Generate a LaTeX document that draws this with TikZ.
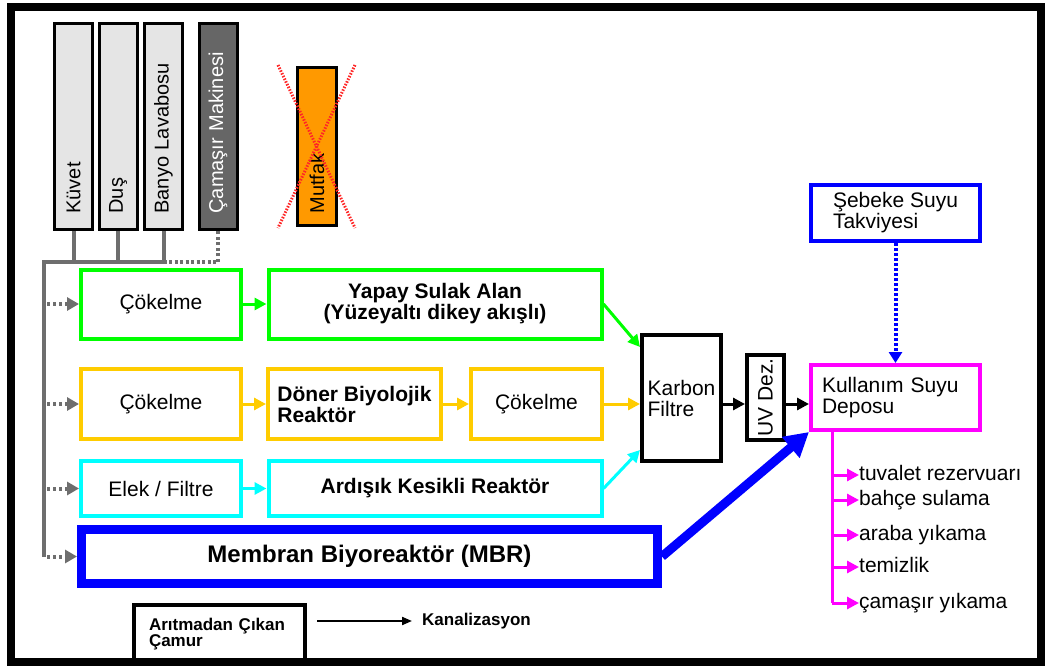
\documentclass[tikz,border=0pt]{standalone}
\usepackage{fontspec}
\setmainfont{Liberation Sans}
\usetikzlibrary{arrows.meta,calc}
\definecolor{grn}{RGB}{0,255,0}
\definecolor{org}{RGB}{255,204,0}
\definecolor{cyn}{RGB}{0,255,255}
\definecolor{blu}{RGB}{0,0,255}
\definecolor{mag}{RGB}{255,0,255}
\definecolor{pgray}{RGB}{110,110,110}
\definecolor{lgray}{RGB}{229,229,229}
\definecolor{dgray}{RGB}{102,102,102}
\definecolor{mutf}{RGB}{255,153,0}
\tikzset{box/.style={draw=#1, line width=4pt, fill=white, inner sep=0pt, font=\fontsize{21}{21}\selectfont},
         bold/.style={font=\fontsize{21}{21}\selectfont\bfseries},
         src/.style={draw, line width=3pt, fill=lgray, rotate=90, inner xsep=16pt, inner ysep=0pt,
                     text width=174pt, align=left, minimum width=206pt, minimum height=38pt,
                     font=\fontsize{20}{20}\selectfont},
         pipe/.style={draw=pgray, line width=4pt},
         feed/.style={pipe, dash pattern=on 3pt off 3pt, shorten <=3pt, -{Triangle[length=12pt,width=13pt]}},
         arc/.style={line width=3pt, -{Triangle[length=12pt,width=12pt]}},
         use/.style={anchor=west, inner sep=0pt, text height=15pt, text depth=4pt, font=\fontsize{21}{21}\selectfont}
}

\begin{document}
\begin{tikzpicture}[x=1pt, y=-1pt]
       \useasboundingbox (0,0) rectangle (1046,666);
       \fill[white] (0,0) rectangle (1046,666);
       % sources
       \node[src] (kuvet) at (73.5,126.5) {Küvet};
       \node[src] (dus) at (118,126.5) {Duş};
       \node[src] (banyo) at (163.5,126.5) {Banyo Lavabosu};
       \node[src, fill=dgray, text=white] (camasir) at (218,126.5) {Çamaşır Makinesi};
       \node[src, fill=mutf, minimum width=158pt, text width=134pt, inner xsep=12pt, minimum height=39pt] (mutfak) at (317,146.5) {Mutfak};
       \draw[red!85!white, line width=3pt, dash pattern=on 1.5pt off 1.5pt] (278,65) -- (355,228) (355,65) -- (278,228);
       % treatment lines
       \node[box=grn, minimum width=160pt, minimum height=69pt] (cok1) at (161,304) {Çökelme};
       \node[box=grn, bold, align=center, minimum width=333pt, minimum height=69pt] (yapay) at (435,304) {Yapay Sulak Alan\\(Yüzeyaltı dikey akışlı)};
       \node[box=org, minimum width=160pt, minimum height=70pt] (cok2) at (161,404) {Çökelme};
       \node[box=org, bold, align=left, minimum width=173pt, minimum height=70pt] (doner) at (354.5,404) {Döner Biyolojik\\Reaktör};
       \node[box=org, minimum width=131pt, minimum height=70pt] (cok3) at (536.5,404) {Çökelme};
       \node[box=cyn, minimum width=160pt, minimum height=55pt] (elek) at (161,488.5) {Elek / Filtre};
       \node[box=cyn, bold, minimum width=333pt, minimum height=55pt] (ardisik) at (435,488.5) {Ardışık Kesikli Reaktör};
       \node[box=blu, line width=9pt, font=\fontsize{24}{24}\selectfont\bfseries, minimum width=576pt, minimum height=54pt] (mbr) at (369.5,556.5) {Membran Biyoreaktör (MBR)};
       % after treatment
       \node[box=black, align=left, minimum width=79pt, minimum height=126pt] (karbon) at (681.5,398) {Karbon\\Filtre};
       \node[box=black, rotate=90, minimum width=85pt, minimum height=37pt] (uv) at (765.5,397.5) {UV Dez.};
       \node[box=mag, align=left, text width=147pt, inner xsep=11pt, minimum height=65pt] (kullanim) at (895.5,397.5) {Kullanım Suyu\\Deposu};
       \node[box=blu, align=left, minimum width=169pt, minimum height=56pt] (sebeke) at (895.5,213) {Şebeke Suyu\\Takviyesi};
       % legend
       \node[box=black, align=left, text width=141pt, inner xsep=15pt, minimum height=58pt, font=\fontsize{17}{16}\selectfont\bfseries] (camur) at (219.5,634) {Arıtmadan Çıkan\\Çamur};
       \node[anchor=west, inner sep=0pt, font=\fontsize{17}{17}\selectfont\bfseries] (kanal) at (422,621) {Kanalizasyon};
       \draw[line width=2pt, shorten <=10pt, shorten >=10pt, -{Triangle[length=10pt,width=8pt]}] (camur.east |- kanal.west) -- (kanal.west);
       % collecting pipes
       \coordinate (bus) at (44,262);
       \coordinate (busend) at (bus |- mbr.west);
       \foreach \s in {kuvet,dus,banyo}
           \draw[pipe] (\s.west) -- (\s.west |- bus);
       \draw[pipe] (busend) -- (bus) -- (banyo.west |- bus);
       \draw[pipe, dash pattern=on 3pt off 2.5pt] (banyo.west |- bus) -- (camasir.west |- bus) -- (camasir.west);
       \foreach \n in {cok1,cok2,elek,mbr}
           \draw[feed] (bus |- \n.west) -- (\n.west);
       % flows
       \draw[arc, grn] (cok1) -- (yapay);
       \draw[arc, org] (cok2) -- (doner);
       \draw[arc, org] (doner) -- (cok3);
       \draw[arc, cyn] (elek) -- (ardisik);
       \draw[arc, grn] (yapay.east) -- ($(karbon.north west)+(0,14)$);
       \draw[arc, org] (cok3.east) -- (cok3.east -| karbon.west);
       \draw[arc, cyn] (ardisik.east) -- ($(karbon.south west)+(0,-13)$);
       \draw[arc] (cok3.east -| karbon.east) -- (cok3.east -| uv.north);
       \draw[arc] (cok3.east -| uv.south) -- (cok3.east -| kullanim.west);
       \draw[blu, line width=9pt, -{Triangle[length=24pt,width=26pt]}] (mbr.east) -- (kullanim.south west);
       \draw[blu, line width=4pt, dash pattern=on 3pt off 2pt, -{Triangle[length=11pt,width=13pt]}] (sebeke) -- (kullanim);
       % uses
       \coordinate (trunk) at ($(kullanim.south west)+(23,0)$);
       \foreach \t/\y [count=\i] in {tuvalet rezervuarı/475, bahçe sulama/500, araba yıkama/535, temizlik/567, çamaşır yıkama/603} {
           \node[use] (u\i) at (859,\y) {\t};
           \draw[mag, line width=3pt, -{Triangle[length=12pt,width=12pt]}] (trunk |- u\i.west) -- (u\i.west);
       }
       \draw[mag, line width=3pt] (trunk) -- (trunk |- u5.west);
       % frame
       \draw[line width=8pt] (11,7) rectangle (1041,662);
\end{tikzpicture}
\end{document}
